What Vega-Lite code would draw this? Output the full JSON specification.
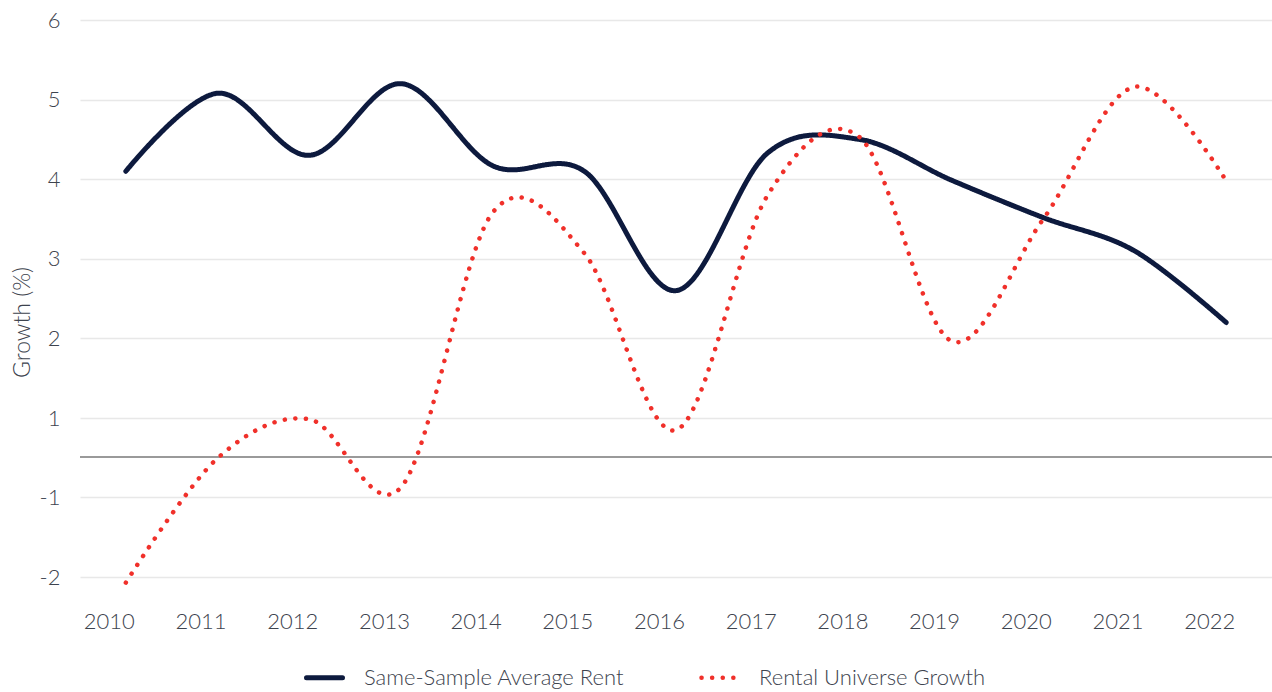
{
  "$schema": "https://vega.github.io/schema/vega-lite/v6.json",
  "width": 1192,
  "height": 557,
  "autosize": {"type": "none"},
  "padding": {"left": 80, "top": 20, "right": 0, "bottom": 115},
  "background": "white",
  "config": {
    "view": {"stroke": null},
    "font": "Lato",
    "axis": {"labelFont": "Lato", "titleFont": "Lato", "labelColor": "#3d434e", "titleColor": "#3d434e", "titleFontWeight": 300, "labelFontWeight": 300}
  },
  "data": {
    "values": [
      {"year": 2010, "series": "Same-Sample Average Rent", "value": 4.1},
      {"year": 2011, "series": "Same-Sample Average Rent", "value": 5.08},
      {"year": 2012, "series": "Same-Sample Average Rent", "value": 4.3},
      {"year": 2013, "series": "Same-Sample Average Rent", "value": 5.2},
      {"year": 2014, "series": "Same-Sample Average Rent", "value": 4.17},
      {"year": 2015, "series": "Same-Sample Average Rent", "value": 4.1},
      {"year": 2016, "series": "Same-Sample Average Rent", "value": 2.6},
      {"year": 2017, "series": "Same-Sample Average Rent", "value": 4.33},
      {"year": 2018, "series": "Same-Sample Average Rent", "value": 4.5},
      {"year": 2019, "series": "Same-Sample Average Rent", "value": 3.99},
      {"year": 2020, "series": "Same-Sample Average Rent", "value": 3.52},
      {"year": 2021, "series": "Same-Sample Average Rent", "value": 3.1},
      {"year": 2022, "series": "Same-Sample Average Rent", "value": 2.2},
      {"year": 2010, "series": "Rental Universe Growth", "value": -2.07},
      {"year": 2011, "series": "Rental Universe Growth", "value": -0.03},
      {"year": 2012, "series": "Rental Universe Growth", "value": 0.97},
      {"year": 2013, "series": "Rental Universe Growth", "value": -0.76},
      {"year": 2014, "series": "Rental Universe Growth", "value": 3.58},
      {"year": 2015, "series": "Rental Universe Growth", "value": 3.07},
      {"year": 2016, "series": "Rental Universe Growth", "value": 0.69},
      {"year": 2017, "series": "Rental Universe Growth", "value": 3.8},
      {"year": 2018, "series": "Rental Universe Growth", "value": 4.53},
      {"year": 2019, "series": "Rental Universe Growth", "value": 1.97},
      {"year": 2020, "series": "Rental Universe Growth", "value": 3.49},
      {"year": 2021, "series": "Rental Universe Growth", "value": 5.16},
      {"year": 2022, "series": "Rental Universe Growth", "value": 3.98}
    ]
  },
  "layer": [
    {
      "mark": {"type": "rule", "color": "#9a9a9a", "strokeWidth": 2},
      "encoding": {"y": {"datum": 0, "type": "quantitative"}}
    },
    {
      "mark": {"type": "line", "interpolate": "cardinal", "strokeCap": "round", "strokeJoin": "round"},
      "encoding": {
        "x": {
          "field": "year", "type": "quantitative",
          "scale": {"domain": [2009.5, 2022.5], "nice": false, "zero": false},
          "axis": {"title": null, "values": [2010, 2011, 2012, 2013, 2014, 2015, 2016, 2017, 2018, 2019, 2020, 2021, 2022], "labelExpr": "toString(datum.value)", "grid": false, "domain": false, "ticks": false, "labelFontSize": 22, "labelPadding": 34, "labelOffset": -17}
        },
        "y": {
          "field": "value", "type": "quantitative",
          "scale": {"domain": [-2, -1, 0, 1, 6], "range": [557, 477, 437, 398, 0], "nice": false, "zero": false},
          "axis": {"title": "Growth (%)", "titleFontSize": 23, "titleAngle": -90, "titleAlign": "center", "titleBaseline": "middle", "titleX": -58, "titleY": 302, "values": [-2, -1, 1, 2, 3, 4, 5, 6], "labelExpr": "toString(datum.value)", "grid": true, "gridColor": "#e8e8e8", "gridWidth": 1.3, "domain": false, "ticks": false, "labelFontSize": 22, "labelPadding": 20}
        },
        "color": {
          "field": "series", "type": "nominal",
          "scale": {"domain": ["Same-Sample Average Rent", "Rental Universe Growth"], "range": ["#0d1a3e", "#f0302a"]},
          "legend": {
            "title": null, "orient": "none", "direction": "horizontal", "legendX": 224, "legendY": 637,
            "symbolType": "stroke", "symbolSize": 1296, "symbolStrokeWidth": 5, "labelFontSize": 22, "labelFontWeight": 300, "labelColor": "#3d434e", "labelFont": "Lato", "labelOffset": 19, "labelLimit": 600, "columnPadding": 67, "padding": 0,
            "encode": {"symbols": {"update": {"strokeCap": {"value": "round"}, "strokeDash": {"signal": "datum.value === 'Rental Universe Growth' ? [0.1, 10.7] : [1, 0]"}}}}
          }
        },
        "strokeDash": {
          "field": "series", "type": "nominal",
          "scale": {"domain": ["Same-Sample Average Rent", "Rental Universe Growth"], "range": [[1, 0], [0.1, 10.5]]},
          "legend": null
        },
        "strokeWidth": {
          "field": "series", "type": "nominal",
          "scale": {"domain": ["Same-Sample Average Rent", "Rental Universe Growth"], "range": [5, 4.5]},
          "legend": null
        }
      }
    }
  ]
}
